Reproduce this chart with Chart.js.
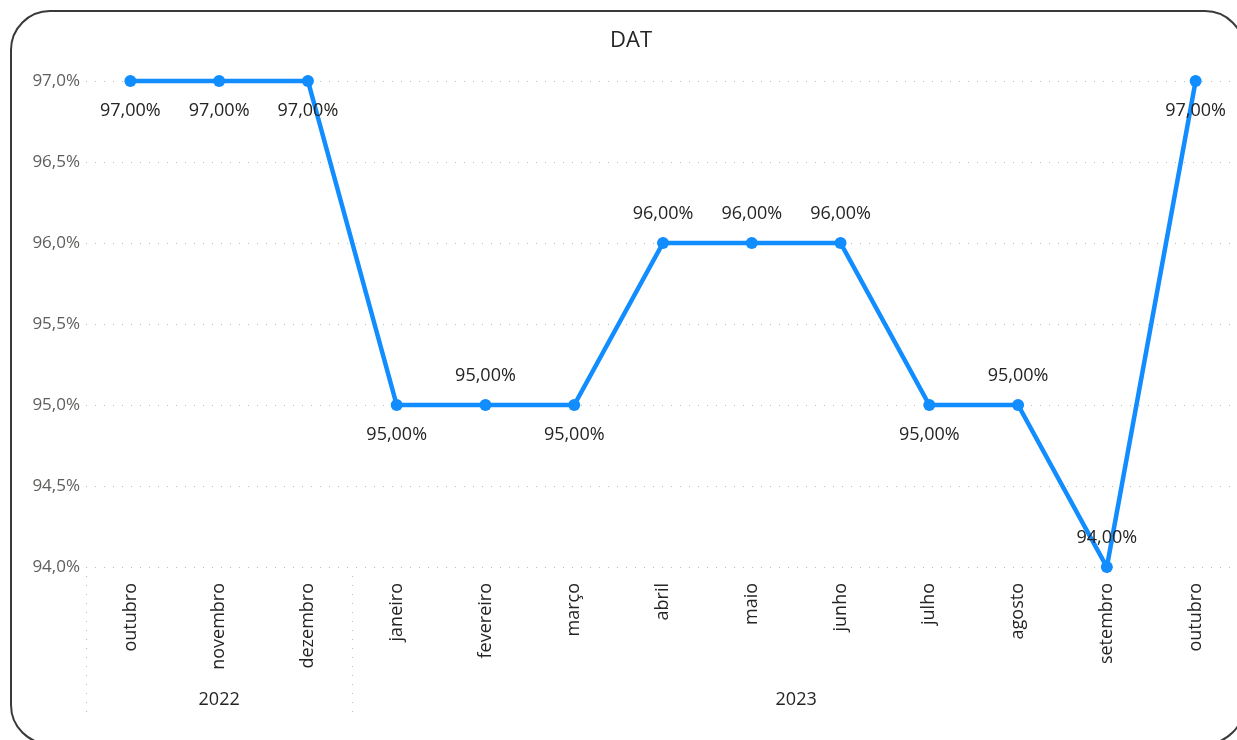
<!DOCTYPE html>
<html>
<head>
<meta charset="utf-8">
<script src="https://cdn.jsdelivr.net/npm/chart.js@4/dist/chart.umd.min.js"></script>
<style>
  html, body { margin: 0; padding: 0; background: #fff; overflow: hidden; }
  #wrap { position: relative; width: 1237px; height: 740px; overflow: hidden; }
  #card {
    position: absolute; left: 10px; top: 10px; width: 1235px; height: 735px;
    border: 2px solid #3a3a3a; border-radius: 40px; box-sizing: border-box;
  }
  #holder { position: absolute; left: 0; top: 0; width: 1262px; height: 740px; }
</style>
</head>
<body>
<div id="wrap">
  <div id="card"></div>
  <div id="holder"><canvas id="chart" width="1262" height="740"></canvas></div>
</div>
<script>
const months = ["outubro", "novembro", "dezembro", "janeiro", "fevereiro", "março", "abril", "maio", "junho", "julho", "agosto", "setembro", "outubro"];
const years = ["2022", "2022", "2022", "2023", "2023", "2023", "2023", "2023", "2023", "2023", "2023", "2023", "2023"];
const datValues = [97, 97, 97, 95, 95, 95, 96, 96, 96, 95, 95, 94, 97];
const yTicks = [94, 94.5, 95, 95.5, 96, 96.5, 97];
const chartTitle = "DAT";

const FONT = "'Segoe UI', 'Open Sans', sans-serif";
const DARK = "#252423";

function formatPct(value, digits) {
  return value.toFixed(digits).replace(".", ",") + "%";
}

// title centred on the card rather than the padded layout box
const titlePlugin = {
  id: "cardTitle",
  afterDraw(chart) {
    const ctx = chart.ctx;
    ctx.save();
    ctx.font = "22px " + FONT;
    ctx.fillStyle = DARK;
    ctx.textAlign = "center";
    ctx.textBaseline = "middle";
    ctx.fillText(chartTitle, chart.width / 2, 41);
    ctx.restore();
  },
};

// labels above the point unless a neighbour sits higher (or the point is at the top)
const dataLabelPlugin = {
  id: "dataLabels",
  afterDatasetsDraw(chart) {
    const ctx = chart.ctx;
    const meta = chart.getDatasetMeta(0);
    const yScale = chart.scales.y;
    const values = chart.data.datasets[0].data;
    ctx.save();
    ctx.font = "18px " + FONT;
    ctx.fillStyle = DARK;
    ctx.textAlign = "center";
    ctx.textBaseline = "middle";
    meta.data.forEach((pt, i) => {
      const v = values[i];
      let below = false;
      if (v >= yScale.max) {
        below = true;
      } else if (v <= yScale.min) {
        below = false;
      } else {
        const prev = values[i - 1];
        const next = values[i + 1];
        below = (prev !== undefined && prev > v) || (next !== undefined && next > v);
      }
      const y = below ? pt.y + 30 : pt.y - 29;
      ctx.fillText(formatPct(v, 2), pt.x, y);
    });
    ctx.restore();
  },
};

const yearRowPlugin = {
  id: "yearRow",
  afterDraw(chart) {
    const ctx = chart.ctx;
    const xScale = chart.scales.x;
    const half = (xScale.getPixelForValue(1) - xScale.getPixelForValue(0)) / 2;
    const groups = [];
    years.forEach((yr, i) => {
      const last = groups[groups.length - 1];
      if (last && last.label === yr) {
        last.end = i;
      } else {
        groups.push({ label: yr, start: i, end: i });
      }
    });
    ctx.save();
    ctx.font = "18px " + FONT;
    ctx.fillStyle = DARK;
    ctx.textAlign = "center";
    ctx.textBaseline = "middle";
    ctx.strokeStyle = "#bdbdbd";
    ctx.lineWidth = 1;
    ctx.setLineDash([1, 8]);
    groups.forEach((g) => {
      const x0 = xScale.getPixelForValue(g.start) - half;
      const x1 = xScale.getPixelForValue(g.end) + half;
      ctx.fillText(g.label, (x0 + x1) / 2, 700);
      ctx.beginPath();
      ctx.moveTo(Math.round(x0) + 0.5, 576);
      ctx.lineTo(Math.round(x0) + 0.5, 716);
      ctx.stroke();
    });
    ctx.restore();
  },
};

new Chart(document.getElementById("chart"), {
  type: "line",
  data: {
    labels: months,
    datasets: [
      {
        label: chartTitle,
        data: datValues,
        borderColor: "#118DFF",
        backgroundColor: "#118DFF",
        borderWidth: 4.5,
        pointRadius: 6,
        pointHoverRadius: 6,
        pointBackgroundColor: "#118DFF",
        pointBorderWidth: 0,
        tension: 0,
        clip: false,
      },
    ],
  },
  options: {
    responsive: false,
    animation: false,
    layout: { padding: { left: 0, right: 22, top: 81, bottom: 0 } },
    plugins: {
      legend: { display: false },
      tooltip: { enabled: false },
      title: { display: false },
    },
    scales: {
      x: {
        offset: true,
        grid: { display: false, drawTicks: false },
        border: { display: false },
        ticks: {
          color: DARK,
          font: { family: FONT, size: 18 },
          minRotation: 90,
          maxRotation: 90,
          padding: 16,
          autoSkip: false,
        },
        afterFit(scale) {
          scale.height = 173;
        },
      },
      y: {
        min: yTicks[0],
        max: yTicks[yTicks.length - 1],
        afterBuildTicks(scale) {
          scale.ticks = yTicks.map((v) => ({ value: v }));
        },
        grid: {
          color: "#bdbdbd",
          lineWidth: 1,
          drawTicks: false,
        },
        border: { display: false, dash: [1, 8] },
        ticks: {
          color: "#605E5C",
          font: { family: FONT, size: 17 },
          padding: 6,
          callback: (v) => formatPct(v, 1),
        },
        afterFit(scale) {
          scale.width = 86;
        },
      },
    },
  },
  plugins: [dataLabelPlugin, yearRowPlugin, titlePlugin],
});
</script>
</body>
</html>
